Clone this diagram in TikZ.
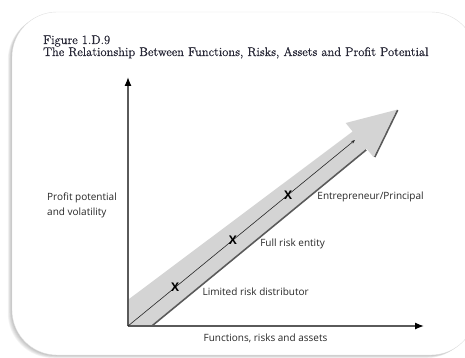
\documentclass[tikz,border=0pt]{standalone}
\usepackage{fontspec}
\setsansfont{Open Sans}
\newfontfamily\captionfont[FakeBold=0.7]{Latin Modern Roman}
\usetikzlibrary{arrows.meta}
\usetikzlibrary{positioning}
\definecolor{titlegray}{RGB}{40,40,55}
\definecolor{bandgray}{RGB}{212,212,212}
\definecolor{edgegray}{RGB}{90,90,90}
\definecolor{labelgray}{RGB}{40,40,40}

\begin{document}
\begin{tikzpicture}[x=1pt,y=-1pt]
   \tikzstyle{lbl} = [font=\sffamily\fontsize{10}{15}\selectfont,
     text=labelgray, inner sep=0pt]
   \tikzstyle{cross} = [font=\sffamily\bfseries\fontsize{12}{10}\selectfont,
     inner sep=0pt]
   \tikzstyle{axis} = [draw=edgegray, line width=1.3pt,
     -{Latex[length=9pt,width=7pt,color=black]}]
   \tikzstyle{head} = [anchor=base west, inner sep=0pt, text=titlegray,
     font=\captionfont\fontsize{12.5}{13}\selectfont]
   \useasboundingbox (0,0) rectangle (465,358);
    %% card with shadow
    \foreach \i in {1,...,6} {
      \fill[black, opacity=0.045, rounded corners=45pt,
        shift={(-0.7*\i,0.5*\i)}] (12,12) rectangle (476,355);
    }
    \filldraw[fill=white, draw=black!12, rounded corners=45pt]
      (12,12) rectangle (476,355);
    %%
    \node[head] (fig) at (43,44) {Figure 1.D.9};
    \node[head] (title) at (43,56)
      {The Relationship Between Functions, Risks, Assets and Profit Potential};
    %%
    \coordinate (O) at (128,326);
    \coordinate (ytip) at (128,77);
    \coordinate (xtip) at (424,326);
    \coordinate (tip) at (355,140);
    %% the wide arrow
    \begin{scope}
      \clip (128,60) rectangle (465,326);
      \begin{scope}[shift={(O)}, rotate=39.15, y=1pt]
        \fill[bandgray] (-40,-14.5) -- (297,-13) -- (297,-24) -- (345,-2)
          -- (297,20) -- (297,9) -- (-40,22.6) -- cycle;
        \draw[edgegray, line width=1.6pt] (-40,-15.3) -- (296,-13.8);
        \draw[edgegray, line width=1.6pt] (298,-24.8) -- (345.5,-2.8);
      \end{scope}
    \end{scope}
    %% axes
    \draw[axis] (O) -- (ytip);
    \draw[axis] (O) -- (xtip);
    \draw[black!85, line width=0.6pt, -{Stealth[length=4pt,width=3pt]}] (O) -- (tip);
    %%
    \path (O) -- (tip) node[cross, pos=0.208] (xa) {X}
      node[cross, pos=0.462] (xb) {X} node[cross, pos=0.705] (xc) {X};
    \node[lbl, right=23pt of xa, yshift=-4pt] (lrd) {Limited risk distributor};
    \node[lbl, right=23pt of xb, yshift=-4pt] (fre) {Full risk entity};
    \node[lbl, right=25pt of xc, yshift=-2pt] (ep) {Entrepreneur/Principal};
    %%
    \node[lbl, align=left, anchor=west] (ylbl) at (47,205.5)
      {Profit potential\\and volatility};
    \node[lbl] (xlbl) at (265.5,338) {Functions, risks and assets};
  \end{tikzpicture}
\end{document}
